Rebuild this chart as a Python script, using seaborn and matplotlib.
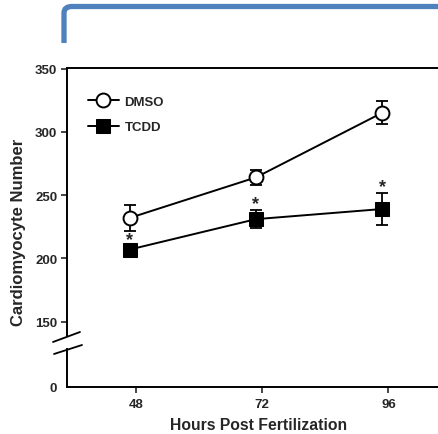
import numpy as np
import pandas as pd
import seaborn as sns
import matplotlib.pyplot as plt
from matplotlib.lines import Line2D
from matplotlib.path import Path
from matplotlib.patches import PathPatch

hours = [48, 72, 96]
dmso = [232, 264, 315]
dmso_err = [10, 6, 9]
tcdd = [207, 231, 239]
tcdd_err = [3, 7, 13]
star_hours = [48, 72, 96]
tick_labels = ['48', '72', '96']
# the original figure has its tick marks a bit right of the points
tick_shift = 1.2

W, H = 439, 435
sns.set_style("white")
plt.rcParams['font.family'] = ['Liberation Sans', 'DejaVu Sans']
plt.rcParams['font.weight'] = 'bold'

fig = plt.figure(figsize=(W / 100, H / 100), dpi=100)

def fx(px):
    return px / W

def fy(py):
    return 1 - py / H

left = fx(67)
ax = fig.add_axes([left, fy(336.7), 1.02 - left, fy(69.3) - fy(336.7)])
ax2 = fig.add_axes([left, fy(388), 1.02 - left, fy(350) - fy(388)])

xlim = (36.05, 108.5)

# error bars under the markers
ax.errorbar(hours, dmso, yerr=dmso_err, fmt='none', ecolor='black',
            elinewidth=1.3, capsize=4, capthick=1.3, zorder=1)
ax.errorbar(hours, tcdd, yerr=tcdd_err, fmt='none', ecolor='black',
            elinewidth=1.3, capsize=4, capthick=1.3, zorder=1)

sns.lineplot(x=hours, y=dmso, ax=ax, color='black', marker='o', markersize=10,
             markerfacecolor='white', markeredgecolor='black', markeredgewidth=1.4,
             linewidth=1.4, label='DMSO', zorder=3)
sns.lineplot(x=hours, y=tcdd, ax=ax, color='black', marker='s', markersize=9.5,
             markerfacecolor='black', markeredgecolor='black',
             linewidth=1.4, label='TCDD', zorder=3)

for h, v, e in zip(star_hours, tcdd, tcdd_err):
    ax.text(h, v + e + 1.5, '*', ha='center', va='baseline', fontsize=13,
            fontweight='bold')

ax.set_xlim(*xlim)
ax.set_ylim(138.9, 350.2)
ax.set_yticks([150, 200, 250, 300, 350])
ax.set_xticks([])
ax.set_xlabel('')
ax.set_ylabel('')
for s in ['bottom', 'right']:
    ax.spines[s].set_visible(False)
for s in ['left', 'top']:
    ax.spines[s].set_color('black')
    ax.spines[s].set_linewidth(1.4)
ax.tick_params(axis='y', direction='out', length=4, width=1.2, labelsize=9.5,
               left=True, pad=3)

leg = ax.legend(loc='upper left', frameon=False, fontsize=9.5, handlelength=2.4,
                borderaxespad=0.6, bbox_to_anchor=(0.0195, 0.947), labelspacing=1.0,
                handletextpad=0.4)
for t in leg.get_texts():
    t.set_fontweight('bold')

ax2.set_xlim(*xlim)
ax2.set_ylim(0, 30)
ax2.set_yticks([0])
ax2.set_xticks([h + tick_shift for h in hours])
ax2.set_xticklabels(tick_labels)
for s in ['top', 'right']:
    ax2.spines[s].set_visible(False)
for s in ['left', 'bottom']:
    ax2.spines[s].set_color('black')
    ax2.spines[s].set_linewidth(1.4)
ax2.tick_params(axis='y', length=0, labelsize=9.5, pad=7)
ax2.tick_params(axis='x', direction='out', length=4, width=1.2, labelsize=9.5,
                bottom=True, pad=4)
for a in (ax, ax2):
    a.set_facecolor('none')
    for lab in a.get_xticklabels() + a.get_yticklabels():
        lab.set_fontweight('bold')

# axis break marks
for (x0, y0, x1, y1) in [(53, 343, 80, 333), (54, 355, 82, 346)]:
    fig.add_artist(Line2D([fx(x0), fx(x1)], [fy(y0), fy(y1)], color='black',
                          lw=1.3, transform=fig.transFigure))

fig.text(fx(19), fy(232), 'Cardiomyocyte Number', rotation=90, ha='center',
         va='center', fontsize=12, fontweight='bold')
fig.text(fx(259), fy(426), 'Hours Post Fertilization', ha='center',
         va='center', fontsize=11.3, fontweight='bold')

# blue bracket decoration at top
verts = [(fx(64), fy(44)), (fx(64), fy(14)), (fx(64), fy(7.5)), (fx(72), fy(7.5)),
         (fx(445), fy(7.5))]
codes = [Path.MOVETO, Path.LINETO, Path.CURVE3, Path.CURVE3, Path.LINETO]
fig.add_artist(PathPatch(Path(verts, codes), fill=False, edgecolor='#4F81BD',
                         lw=3.8, capstyle='butt', transform=fig.transFigure))

fig.savefig('out.png', dpi=100)
